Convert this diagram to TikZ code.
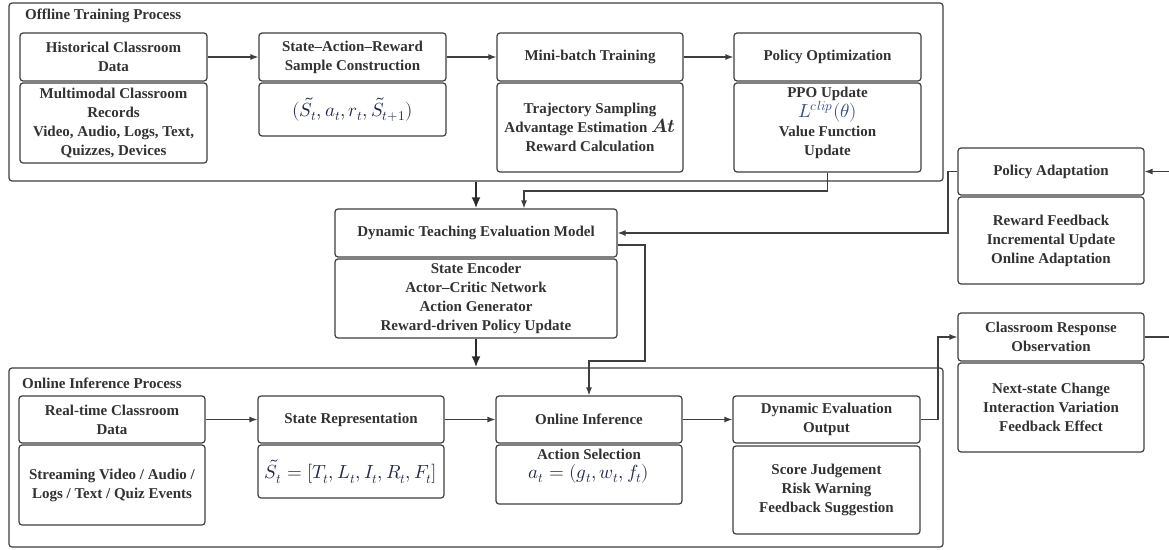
\documentclass[tikz,border=0pt]{standalone}
\usepackage{fontspec}
\usepackage{unicode-math}
\setmainfont{Liberation Serif}
\setmathfont{Latin Modern Math}
\usetikzlibrary{arrows.meta}
\definecolor{ln}{RGB}{62,62,62}
\definecolor{tx}{RGB}{50,50,50}
\definecolor{mth}{RGB}{35,40,75}
\definecolor{mthb}{RGB}{55,75,140}
\newcommand\mfsz{\fontsize{19}{21}\selectfont}
\begin{document}
\begin{tikzpicture}[x=1pt,y=-1pt,
  box/.style={draw=ln,line width=1.2pt,rounded corners=3pt,align=center,inner sep=2pt,font=\fontsize{15}{19}\selectfont\bfseries,text=tx},
  grp/.style={draw=ln,line width=1.2pt,rounded corners=3pt,inner sep=0pt},
  ttl/.style={font=\fontsize{15}{19}\selectfont\bfseries,text=tx,anchor=west,inner sep=0pt},
  txt/.style={align=center,font=\fontsize{15}{19}\selectfont\bfseries,text=tx,inner sep=0pt},
  arr/.style={draw=ln,line width=1.2pt,-{Latex[length=8pt,width=6pt]}},
  bigarr/.style={draw=ln!70!black,line width=2.8pt,-{Latex[length=11pt,width=9pt]}}
]
\useasboundingbox (0,0) rectangle (1169,549);

% group boxes
\node[grp,minimum width=934pt,minimum height=178pt] (offg) at (476,92) {};
\node[grp,minimum width=934pt,minimum height=179pt] (ong) at (476,457.5) {};
\node[ttl] (offt) at (25,16) {Offline Training Process};
\node[ttl] (ont) at (22,383) {Online Inference Process};

% top row
\node[box,minimum width=187pt,minimum height=48pt] (hist) at (113.5,57) {Historical Classroom\\Data};
\node[box,minimum width=187pt,minimum height=80pt] (histb) at (113.5,123) {Multimodal Classroom\\Records\\Video, Audio, Logs, Text,\\Quizzes, Devices};
\node[box,minimum width=187pt,minimum height=48pt] (sar) at (352.5,57) {State--Action--Reward\\Sample Construction};
\node[box,minimum width=187pt,minimum height=53pt] (sarb) at (352.5,109.5) {{\mfsz\color{mth}$(\tilde{S}_t, a_t, r_t, \tilde{S}_{t+1})$}};
\node[box,minimum width=186pt,minimum height=48pt] (mini) at (590,57) {Mini-batch Training};
\node[box,minimum width=186pt,minimum height=89pt] (minib) at (590,127.5) {Trajectory Sampling\\Advantage Estimation {\mfsz$\symbfit{At}$}\\Reward Calculation};
\node[box,minimum width=187pt,minimum height=48pt] (pol) at (827.5,57) {Policy Optimization};
\node[box,minimum width=187pt,minimum height=89pt] (polb) at (827.5,127.5) {};
\node[txt] (polt) at (827.5,123) {PPO Update\\{\mfsz\color{mthb}$L^{clip}(\theta)$}\\Value Function\\Update};

% model
\node[box,minimum width=282pt,minimum height=48pt] (dtem) at (476,233) {Dynamic Teaching Evaluation Model};
\node[box,minimum width=282pt,minimum height=79pt] (dtemb) at (476,298.5) {State Encoder\\Actor--Critic Network\\Action Generator\\Reward-driven Policy Update};

% right column
\node[box,minimum width=186pt,minimum height=47pt] (pa) at (1051,171.5) {Policy Adaptation};
\node[box,minimum width=186pt,minimum height=87pt] (pab) at (1051,240.5) {Reward Feedback\\Incremental Update\\Online Adaptation};
\node[box,minimum width=186pt,minimum height=48pt] (cro) at (1051,337) {Classroom Response\\Observation};
\node[box,minimum width=186pt,minimum height=89pt] (crob) at (1051,407.5) {Next-state Change\\Interaction Variation\\Feedback Effect};

% bottom row
\node[box,minimum width=186pt,minimum height=47pt] (rt) at (112,419.5) {Real-time Classroom\\Data};
\node[box,minimum width=186pt,minimum height=80pt] (rtb) at (112,485) {Streaming Video / Audio /\\Logs / Text / Quiz Events};
\node[box,minimum width=186pt,minimum height=47pt] (sr) at (351,419.5) {State Representation};
\node[box,minimum width=186pt,minimum height=53pt] (srb) at (351,471.5) {{\mfsz\color{mth}$\tilde{S}_t = [T_t, L_t, I_t, R_t, F_t]$}};
\node[box,minimum width=186pt,minimum height=47pt] (oi) at (589,419.5) {Online Inference};
\node[box,minimum width=186pt,minimum height=59pt] (oib) at (589,474.5) {};
\node[txt] (oit) at (589,466) {Action Selection\\{\mfsz\color{mth}$a_t = (g_t, w_t, f_t)$}};
\node[box,minimum width=187pt,minimum height=47pt] (deo) at (826.5,419.5) {Dynamic Evaluation\\Output};
\node[box,minimum width=187pt,minimum height=88pt] (deob) at (826.5,490) {Score Judgement\\Risk Warning\\Feedback Suggestion};

% helper coordinates
\coordinate (c1) at (524,191);
\coordinate (c2) at (948,0);
\coordinate (c3) at (645,361);
\coordinate (c5) at (938,0);
\coordinate (c6) at (1185,0);

% connectors
\draw[arr] (hist.east) -- (sar.west);
\draw[arr] (sar.east) -- (mini.west);
\draw[arr] (mini.east) -- (pol.west);
\draw[arr] (polb.south) |- (c1) -- (c1 |- dtem.north);
\draw[arr] (pa.west) -- (pa.west -| c2) |- (dtem.east);
\draw[arr] ([yshift=-12pt]dtem.east) -| (c3) -| (oi.north);
\draw[arr] (rt.east) -- (sr.west);
\draw[arr] (sr.east) -- (oi.west);
\draw[arr] (oi.east) -- (deo.west);
\draw[arr] (deo.east) -- (deo.east -| c5) |- (cro.west);
\draw[arr] (cro.east) -- (cro.east -| c6) |- (pa.east);
\draw[bigarr] (offg.south) -- (dtem.north);
\draw[bigarr] (dtemb.south) -- (ong.north);
\end{tikzpicture}
\end{document}
